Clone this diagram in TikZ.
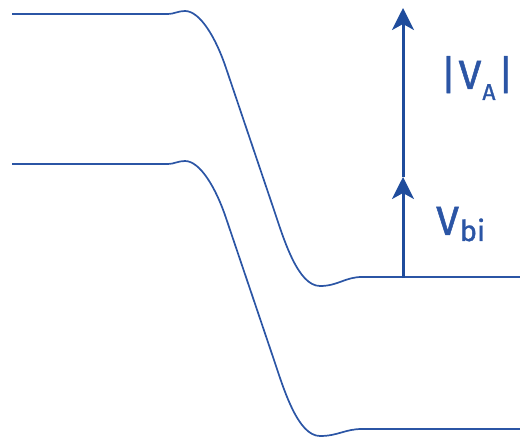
\documentclass[tikz,border=0pt]{standalone}
\usepackage{fontspec}
\setmainfont{Liberation Sans}
\newfontfamily\voltfont[FakeBold=1.2]{Fira Sans}
\usepackage{tikz}
\usetikzlibrary{arrows.meta}
\definecolor{band-blue}{HTML}{2B55A5}
\definecolor{arrow-blue}{HTML}{1F4C9C}

\begin{document}
\begin{tikzpicture}[
    x=1bp, y=-1bp,
    band/.style={draw=band-blue, line width=1.7bp},
    volt/.style={draw=arrow-blue, line width=3bp, -{Stealth[length=22bp, width=22bp, inset=6bp]}},
    voltlabel/.style={text=band-blue, inner sep=0pt, anchor=base west, font=\voltfont\fontsize{41}{44}\selectfont}
]
\useasboundingbox (0,0) rectangle (520,440);

% Upper band edge
\draw[band] (12,14) -- (168,14) .. controls (174,14) and (178,11) .. (185,11)
    .. controls (200,11) and (216,38) .. (226,68) -- (274,210)
    .. controls (284,240) and (298,286) .. (320,286)
    .. controls (338,286) and (345,277) .. (362,277) -- (520,277);

% Lower band edge
\draw[band] (12,164) -- (168,164) .. controls (174,164) and (178,161) .. (185,161)
    .. controls (200,161) and (216,188) .. (226,218) -- (274,360)
    .. controls (284,390) and (298,436) .. (320,436)
    .. controls (338,436) and (345,429) .. (362,429) -- (520,429);

% Potential arrow
\coordinate (base) at (403,278);
\coordinate (mid) at (403,177);
\coordinate (tip) at (403,8);
\draw[volt] (base) -- (mid);
\draw[volt] (mid) -- (tip);

% Labels
\node[voltlabel] (va) at (440,89) {|\kern2bp V\kern1bp\raisebox{-11bp}{\fontsize{23}{23}\selectfont A}\kern2bp|};
\node[voltlabel] (vbi) at (436,235) {V\kern1bp\raisebox{-6bp}{\fontsize{29}{29}\selectfont bi}};

\end{tikzpicture}
\end{document}
